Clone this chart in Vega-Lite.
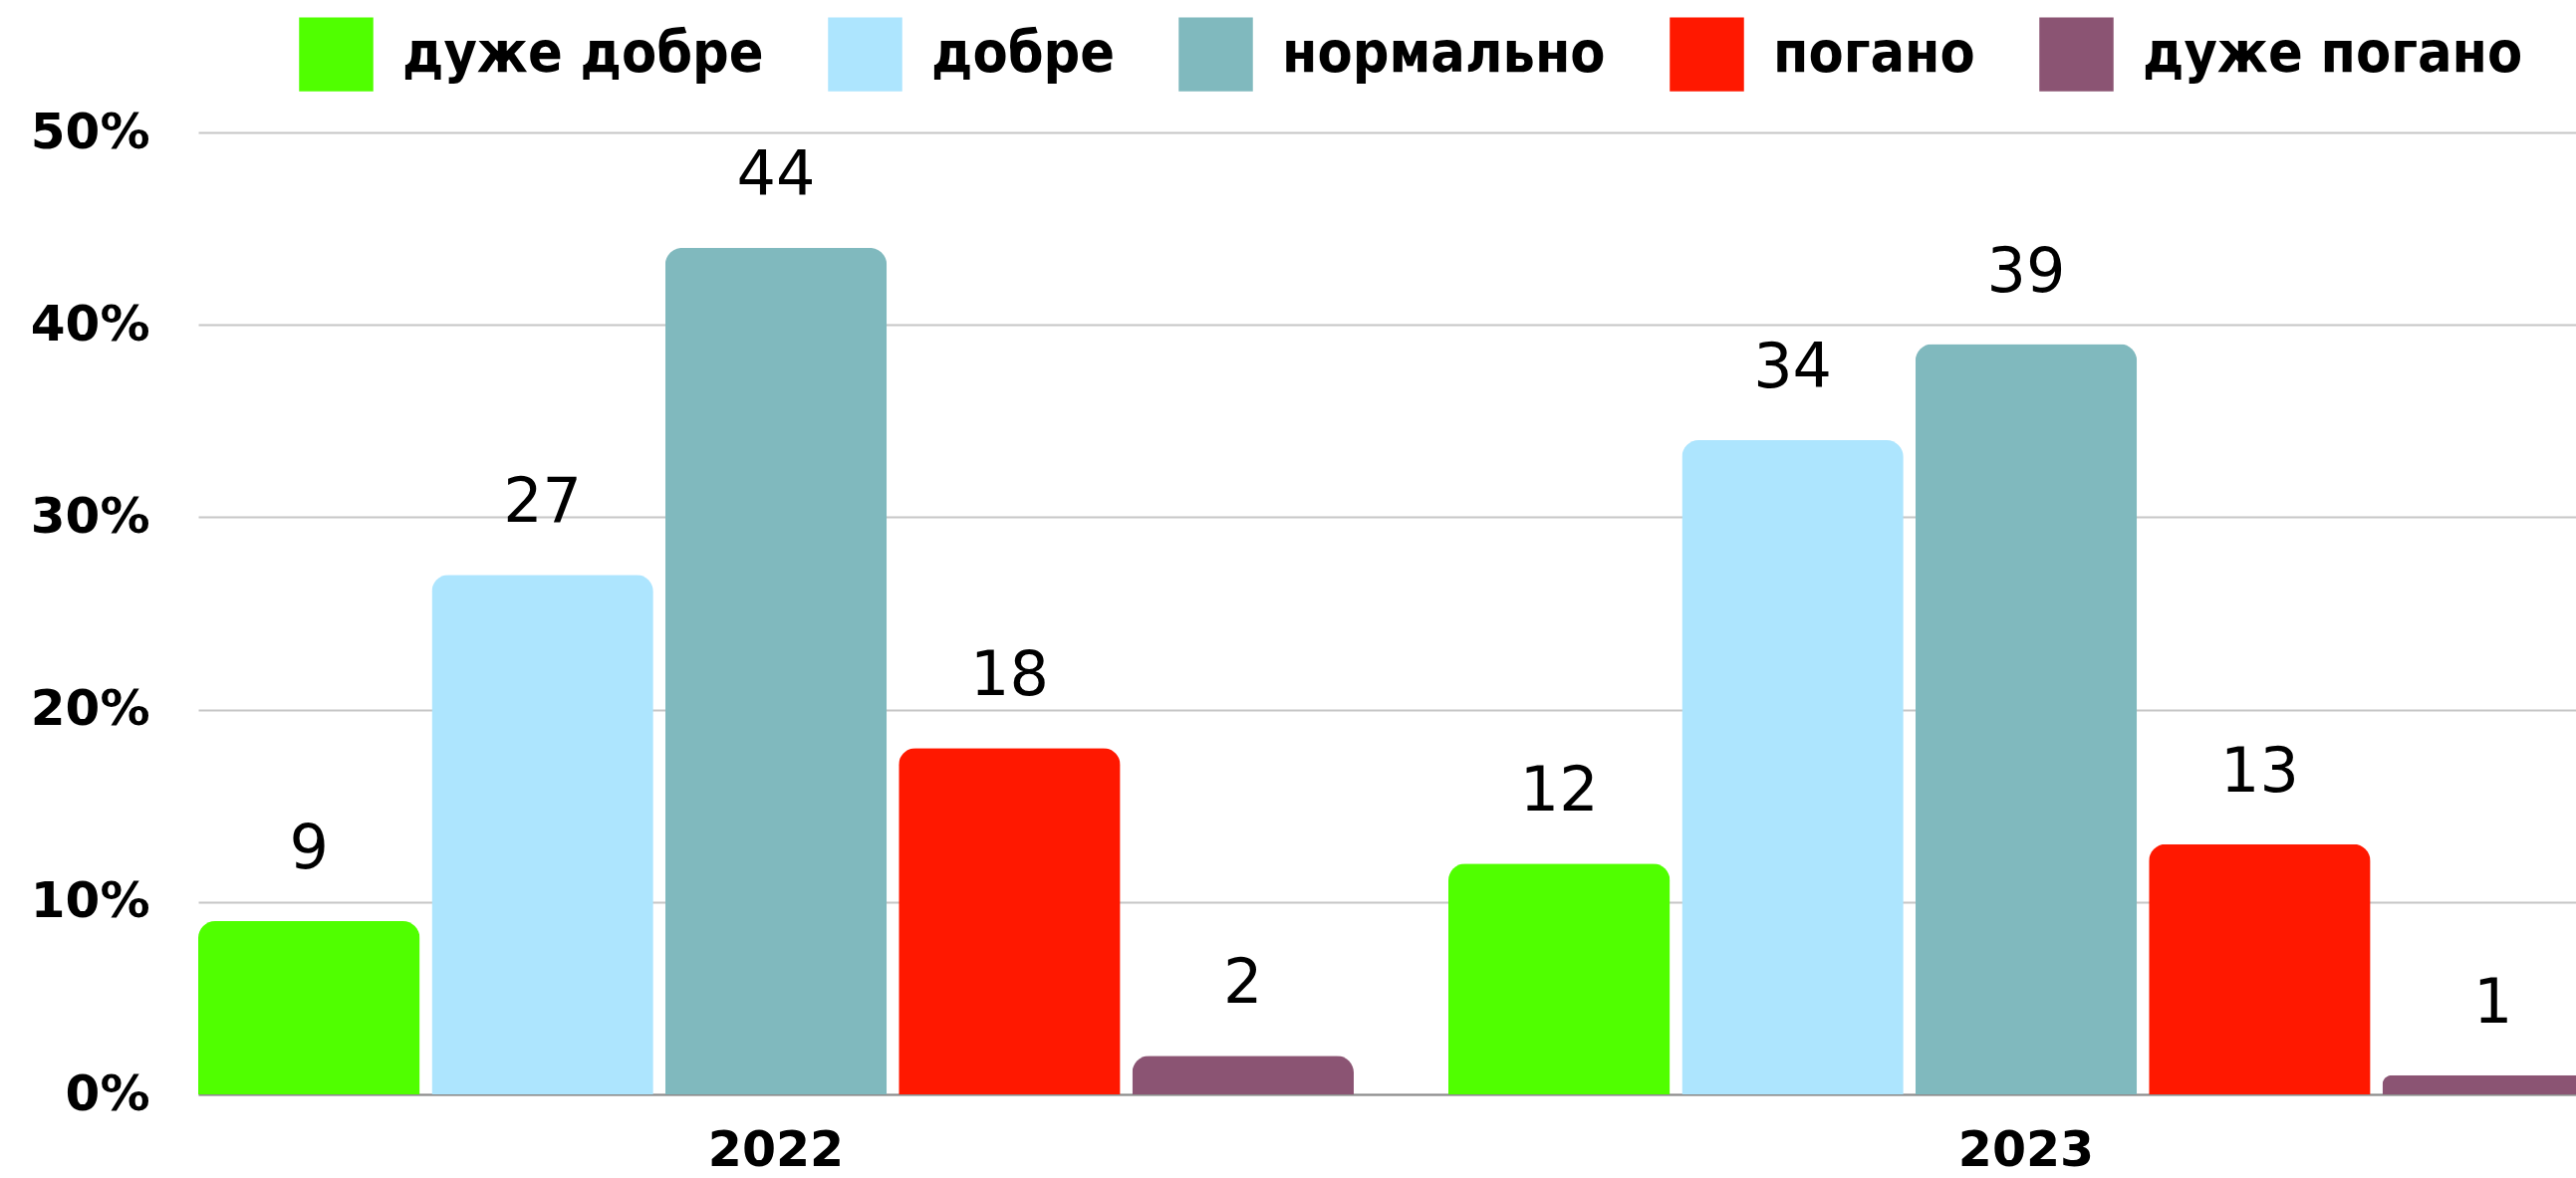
{
  "$schema": "https://vega.github.io/schema/vega-lite/v6.json",
  "autosize": {"type": "none"},
  "width": 2387,
  "height": 966,
  "padding": {"left": 199, "top": 133, "right": 0, "bottom": 84},
  "background": "white",
  "config": {"view": {"stroke": null}},
  "data": {
    "values": [
      {"year": "2022", "category": "дуже добре", "value": 9},
      {"year": "2022", "category": "добре", "value": 27},
      {"year": "2022", "category": "нормально", "value": 44},
      {"year": "2022", "category": "погано", "value": 18},
      {"year": "2022", "category": "дуже погано", "value": 2},
      {"year": "2023", "category": "дуже добре", "value": 12},
      {"year": "2023", "category": "добре", "value": 34},
      {"year": "2023", "category": "нормально", "value": 39},
      {"year": "2023", "category": "погано", "value": 13},
      {"year": "2023", "category": "дуже погано", "value": 1}
    ]
  },
  "encoding": {
    "x": {
      "field": "year",
      "type": "nominal",
      "scale": {"range": [0, 2415], "paddingInner": 0.0757, "paddingOuter": 0},
      "axis": {
        "title": null,
        "labelAngle": 0,
        "labelFont": "DejaVu Sans",
        "labelFontWeight": "bold",
        "labelFontSize": 49,
        "labelColor": "#000000",
        "labelBaseline": "alphabetic",
        "labelPadding": 71,
        "ticks": false,
        "tickSize": 0,
        "domainColor": "#8c8c8c",
        "domainWidth": 2,
        "grid": false
      }
    },
    "xOffset": {
      "field": "category",
      "type": "nominal",
      "sort": ["дуже добре", "добре", "нормально", "погано", "дуже погано"],
      "scale": {"paddingInner": 0.0512, "paddingOuter": 0}
    },
    "y": {
      "field": "value",
      "type": "quantitative",
      "scale": {"domain": [0, 50], "nice": false},
      "axis": {
        "title": null,
        "values": [0, 10, 20, 30, 40, 50],
        "labelExpr": "datum.value + '%'",
        "labelFont": "DejaVu Sans",
        "labelFontWeight": "bold",
        "labelFontSize": 50,
        "labelColor": "#000000",
        "labelPadding": 49,
        "ticks": false,
        "tickSize": 0,
        "domain": false,
        "grid": true,
        "gridColor": "#c6c6c6",
        "gridWidth": 2
      }
    }
  },
  "layer": [
    {
      "mark": {"type": "bar", "cornerRadiusTopLeft": 17, "cornerRadiusTopRight": 17},
      "encoding": {
        "color": {
          "field": "category",
          "type": "nominal",
          "sort": ["дуже добре", "добре", "нормально", "погано", "дуже погано"],
          "scale": {
            "domain": ["дуже добре", "добре", "нормально", "погано", "дуже погано"],
            "range": ["#50ff00", "#ade5fe", "#80b9be", "#ff1800", "#8b5473"]
          },
          "legend": {
            "orient": "none",
            "legendX": 101,
            "legendY": -116,
            "direction": "horizontal",
            "columns": 5,
            "title": null,
            "padding": 0,
            "symbolType": "square",
            "symbolSize": 5550,
            "symbolStrokeWidth": 0,
            "symbolOpacity": 1,
            "labelFont": "DejaVu Sans Condensed, Liberation Sans",
            "labelFontWeight": "bold",
            "labelFontSize": 57,
            "labelColor": "#000000",
            "labelOffset": 29,
            "columnPadding": 64,
            "labelLimit": 600
          }
        }
      }
    },
    {
      "mark": {"type": "text", "baseline": "alphabetic", "dy": -53, "font": "DejaVu Sans", "fontSize": 62, "color": "#000000"},
      "encoding": {"text": {"field": "value", "type": "quantitative"}}
    }
  ]
}
